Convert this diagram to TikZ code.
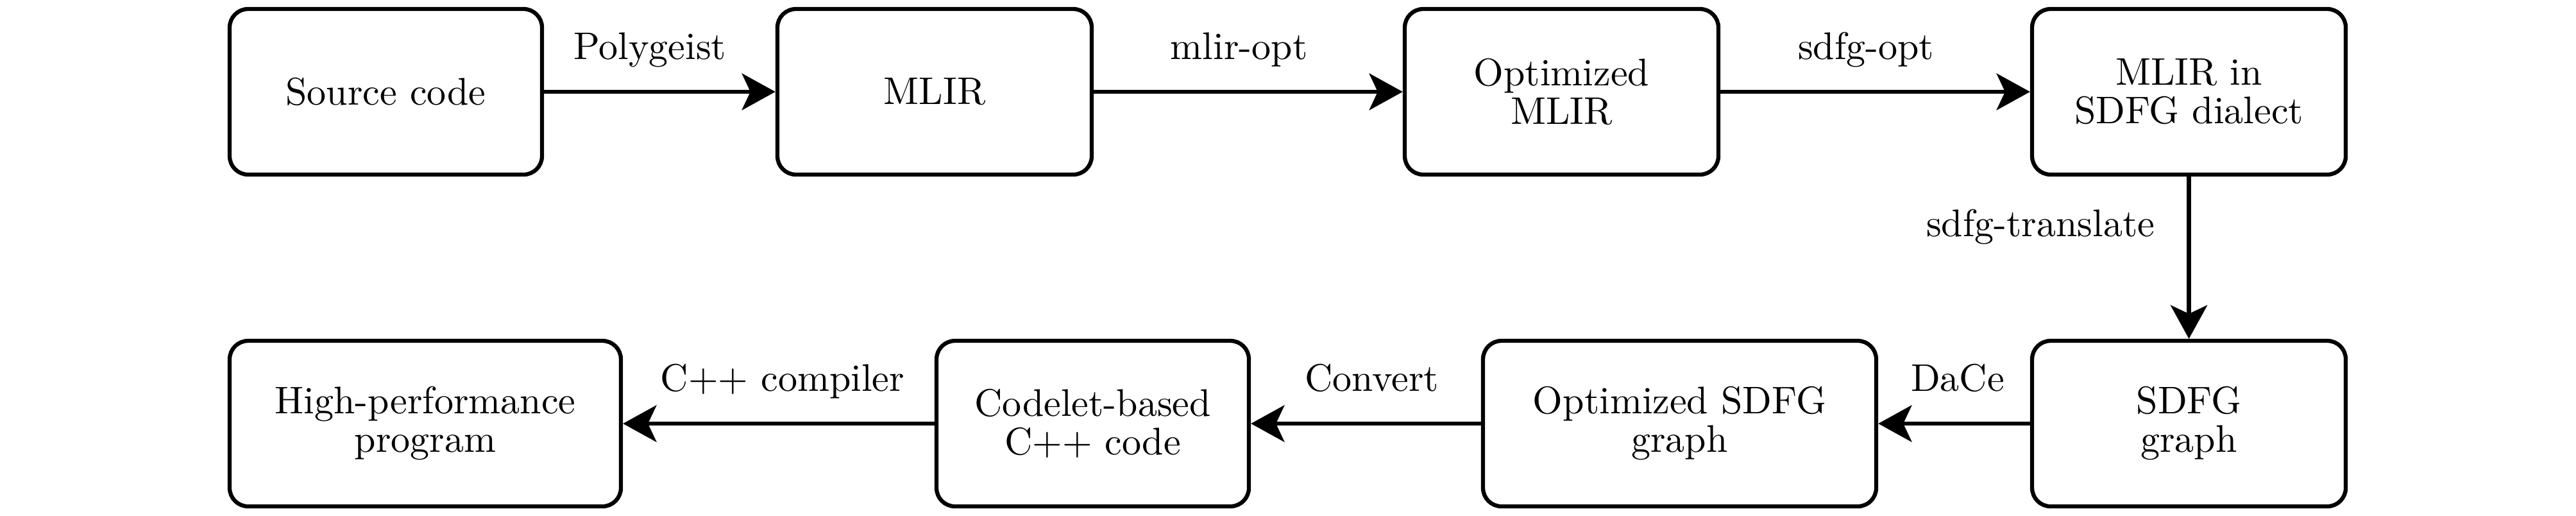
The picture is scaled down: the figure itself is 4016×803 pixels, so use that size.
\documentclass[tikz,border=0pt]{standalone}
\usetikzlibrary{arrows.meta}
\tikzset{
  box/.style={draw, line width=1.05pt, rounded corners=4.8pt, minimum height=43pt,
    inner sep=0pt, align=center, font=\fontsize{10}{10}\selectfont},
  conn/.style={line width=1.15pt, -{Stealth[length=8.7pt, width=9.5pt, inset=2.2pt]}},
  lbl/.style={font=\fontsize{10}{12}\selectfont, inner sep=0pt, anchor=base, yshift=8.5pt}
}
\begin{document}
\begin{tikzpicture}[x=0.166667pt, y=-0.166667pt]
\useasboundingbox (0,0) rectangle (4016,803);
% row 1
\node[box, minimum width=81.17pt] (src) at (601.5,143) {Source code};
\node[box, minimum width=81.67pt] (mlir) at (1457,143) {MLIR};
\node[box, minimum width=81.5pt] (optm) at (2434.5,143) {Optimized\\MLIR};
\node[box, minimum width=81.5pt] (sdfgd) at (3412.5,143) {MLIR in\\SDFG dialect};
% row 2
\node[box, minimum width=101.67pt] (hp) at (663,660) {High-performance\\program};
\node[box, minimum width=81.17pt] (cod) at (1703.5,660) {Codelet-based\\C++ code};
\node[box, minimum width=102.17pt] (opts) at (2618.5,660) {Optimized SDFG\\graph};
\node[box, minimum width=81.5pt] (sg) at (3412.5,660) {SDFG\\graph};
% connectors
\draw[conn] (src) -- node[lbl, pos=0.458] (l1) {Polygeist} (mlir);
\draw[conn] (mlir) -- node[lbl, pos=0.47] (l2) {mlir-opt} (optm);
\draw[conn] (optm) -- node[lbl, pos=0.47] (l3) {sdfg-opt} (sdfgd);
\draw[conn] (sdfgd) -- node[font=\fontsize{10}{12}\selectfont, inner sep=0pt, anchor=base east, pos=0.37, xshift=-8.33pt] (l4) {sdfg-translate} (sg);
\draw[conn] (sg) -- node[lbl, pos=0.477] (l5) {DaCe} (opts);
\draw[conn] (opts) -- node[lbl, pos=0.474] (l6) {Convert} (cod);
\draw[conn] (cod) -- node[lbl, pos=0.488] (l7) {C++ compiler} (hp);
\end{tikzpicture}
\end{document}
